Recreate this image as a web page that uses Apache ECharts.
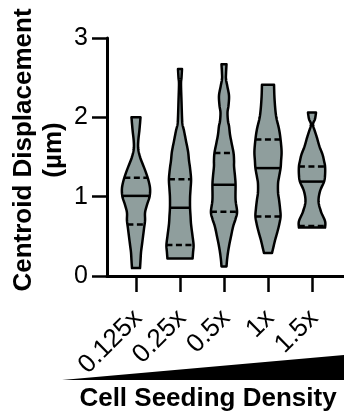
<!DOCTYPE html>
<html><head><meta charset="utf-8">
<script src="https://cdn.jsdelivr.net/npm/echarts@6/dist/echarts.min.js"></script>
<style>html,body{margin:0;padding:0;background:#fff}#c{width:344px;height:413px}</style>
</head><body><div id="c"></div>
<script>
// ---- data ----
const categories = ['0.125x', '0.25x', '0.5x', '1x', '1.5x'];
const yMin = 0, yMax = 3, yStep = 1;

// violin profiles: value levels (µm, ascending) and relative kernel density at each level
const v1Levels  = [0.10,0.20,0.30,0.40,0.50,0.60,0.70,0.80,0.90,1.00,1.10,1.20,1.30,1.40,1.50,1.60,1.70,1.85,2.00];
const v1Density = [8,9,10,12,14,16,18,18,22,27,28,25,20,14,8,4.5,4.5,7,9];

const v2Levels  = [0.22,0.30,0.39,0.50,0.65,0.75,0.86,0.99,1.10,1.22,1.36,1.45,1.57,1.70,1.83,1.91,2.00,2.20,2.42,2.50,2.61];
const v2Density = [25,26,27,25,22,21,20,20,21,22,20,18,16,12,8,5,4,3,2,3,4];

const v3Levels  = [0.12,0.20,0.30,0.41,0.50,0.62,0.72,0.81,0.96,1.15,1.25,1.38,1.45,1.55,1.68,1.78,1.89,1.95,2.06,2.15,2.27,2.38,2.48,2.55,2.67];
const v3Density = [5,6,8,11,14,18,23,26,23,23,22,20,20,19,15,12,10,8,7,9,10,7,4,4,5];

const v4Levels  = [0.29,0.37,0.45,0.54,0.64,0.75,0.85,0.96,1.05,1.17,1.25,1.36,1.45,1.57,1.72,1.85,2.02,2.23,2.41];
const v4Density = [8,11,14,18,22,25,24,22,20,20,22,25,26,27,25,22,16,13,12];

const v5Levels  = [0.61,0.69,0.81,0.94,1.07,1.19,1.28,1.38,1.45,1.53,1.63,1.74,1.82,1.91,1.98,2.06];
const v5Density = [26,26,18,13,16,24,26,26,24,21,15,10,6,2,6,8];

const q1Values     = [0.65, 0.39, 0.81, 0.75, 0.63];
const medianValues = [1.01, 0.86, 1.15, 1.36, 1.19];
const q3Values     = [1.24, 1.22, 1.55, 1.72, 1.38];

const yTitle1 = 'Centroid Displacement';
const yTitle2 = '(µm)';
const xTitle = 'Cell Seeding Density';

// ---- build ----
const levels = [v1Levels, v2Levels, v3Levels, v4Levels, v5Levels];
const densities = [v1Density, v2Density, v3Density, v4Density, v5Density];
const maxDensity = Math.max.apply(null, densities.map(d => Math.max.apply(null, d)));

const FONT = '"Liberation Sans", Arial, sans-serif';
const FILL = '#8f9e9d';

function cr(p0, p1, p2, p3, t) {
  const t2 = t * t, t3 = t2 * t;
  return 0.5 * ((2 * p1) + (-p0 + p2) * t + (2 * p0 - 5 * p1 + 4 * p2 - p3) * t2 + (-p0 + 3 * p1 - 3 * p2 + p3) * t3);
}
function smoothProfile(lv, dn) {
  const out = [];
  const n = lv.length, steps = 8;
  for (let i = 0; i < n - 1; i++) {
    const a = Math.max(0, i - 1), b = i, c = i + 1, d = Math.min(n - 1, i + 2);
    for (let s = 0; s < steps; s++) {
      const t = s / steps;
      out.push([cr(lv[a], lv[b], lv[c], lv[d], t), Math.max(0.5, cr(dn[a], dn[b], dn[c], dn[d], t))]);
    }
  }
  out.push([lv[n - 1], dn[n - 1]]);
  return out;
}
function densityAt(prof, v) {
  for (let i = 0; i < prof.length - 1; i++) {
    if (v >= prof[i][0] && v <= prof[i + 1][0]) {
      const f = (v - prof[i][0]) / ((prof[i + 1][0] - prof[i][0]) || 1);
      return prof[i][1] + f * (prof[i + 1][1] - prof[i][1]);
    }
  }
  return v < prof[0][0] ? prof[0][1] : prof[prof.length - 1][1];
}

function renderViolin(params, api) {
  const i = api.value(0);
  const prof = smoothProfile(levels[i], densities[i]);
  const band = api.size([1, 0])[0];
  const k = band * 0.32 / maxDensity;
  const cx = api.coord([i, 0])[0];
  const right = [], left = [];
  prof.forEach(p => {
    const y = api.coord([i, p[0]])[1];
    const h = p[1] * k;
    right.push([cx + h, y]);
    left.push([cx - h, y]);
  });
  const pts = right.concat(left.reverse());
  const children = [{
    type: 'polygon',
    shape: { points: pts },
    style: { fill: FILL, stroke: '#000', lineWidth: 2.5, lineJoin: 'round' }
  }];
  const mk = (v, dashed) => {
    const h = densityAt(prof, v) * k;
    const y = api.coord([i, v])[1];
    return {
      type: 'line',
      shape: { x1: cx - h, y1: y, x2: cx + h, y2: y },
      style: { stroke: '#000', lineWidth: 2.5, lineDash: dashed ? [6, 3.5] : null }
    };
  };
  children.push(mk(q1Values[i], true));
  children.push(mk(q3Values[i], true));
  children.push(mk(medianValues[i], false));
  return { type: 'group', children: children };
}

const chart = echarts.init(document.getElementById('c'), null, { renderer: 'canvas' });
chart.setOption({
  animation: false,
  backgroundColor: '#fff',
  grid: [
    { left: 107, right: 0, top: 38, bottom: 137 },
    { left: 114, width: 220, top: 38, bottom: 137 }
  ],
  xAxis: [
    { gridIndex: 0, type: 'value', min: 0, max: 1,
      axisLine: { show: true, lineStyle: { color: '#000', width: 3 } },
      axisTick: { show: false }, axisLabel: { show: false }, splitLine: { show: false } },
    { gridIndex: 1, type: 'category', data: categories,
      axisLine: { show: false },
      axisTick: { show: true, alignWithLabel: true, interval: 0, length: 16, lineStyle: { color: '#000', width: 2.5 } },
      axisLabel: { interval: 0, rotate: 45, fontSize: 26, color: '#000', fontFamily: FONT, margin: 22, verticalAlign: 'top', padding: [0, 10, 0, 0] },
      splitLine: { show: false } }
  ],
  yAxis: [
    { gridIndex: 0, type: 'value', min: yMin, max: yMax, interval: yStep,
      axisLine: { show: true, lineStyle: { color: '#000', width: 3 } },
      axisTick: { show: true, length: 15, lineStyle: { color: '#000', width: 2.5 } },
      axisLabel: { fontSize: 25, color: '#000', fontFamily: FONT, margin: 19 },
      splitLine: { show: false } },
    { gridIndex: 1, type: 'value', min: yMin, max: yMax, show: false }
  ],
  series: [{
    type: 'custom',
    xAxisIndex: 1, yAxisIndex: 1,
    renderItem: renderViolin,
    data: categories.map((c, i) => [i]),
    clip: false
  }],
  graphic: [
    { type: 'text', x: 24, y: 150, rotation: Math.PI / 2,
      style: { text: yTitle1, font: 'bold 26px ' + FONT, fill: '#000', textAlign: 'center', textVerticalAlign: 'middle' } },
    { type: 'text', x: 54, y: 150, rotation: Math.PI / 2,
      style: { text: yTitle2, font: 'bold 26px ' + FONT, fill: '#000', textAlign: 'center', textVerticalAlign: 'middle' } },
    { type: 'polygon', shape: { points: [[62, 380], [344, 355], [344, 380]] }, style: { fill: '#000' } },
    { type: 'text', x: 208, y: 399,
      style: { text: xTitle, font: 'bold 26px ' + FONT, fill: '#000', textAlign: 'center', textVerticalAlign: 'middle' } }
  ]
});
</script>
</body></html>
